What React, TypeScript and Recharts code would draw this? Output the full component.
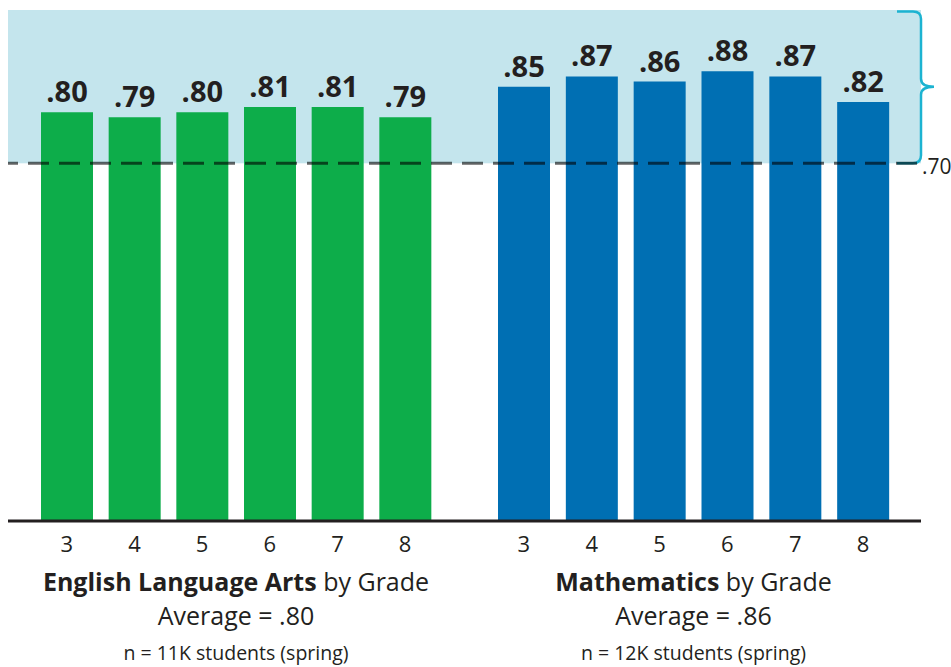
import { BarChart, Bar, XAxis, YAxis, ReferenceArea, ReferenceLine, LabelList } from "recharts";

const grades = ["3", "4", "5", "6", "7", "8"];
const elaScores = [0.8, 0.79, 0.8, 0.81, 0.81, 0.79];
const mathScores = [0.85, 0.87, 0.86, 0.88, 0.87, 0.82];
const benchmark = 0.7;
const elaStudents = "11K";
const mathStudents = "12K";

const FONT = "'Open Sans', sans-serif";
const INK = "#231f20";
const SHADE = "#c4e5ed";
const BRACE = "#1cb3d1";

const fmt = (v: number) => v.toFixed(2).replace(/^0/, "");
const avg = (a: number[]) => a.reduce((s, v) => s + v, 0) / a.length;

const elaData = grades.map((g, i) => ({ grade: g, score: elaScores[i] }));
const mathData = grades.map((g, i) => ({ grade: g, score: mathScores[i] }));

// shaded band; stretched over the axis padding, with the brace on the last panel
function BandShape(props: any) {
  const { x, y, width, height, extL, extR, brace } = props;
  const x0 = x - extL;
  const xr = x + width + extR;
  const yb = y + height;
  const ym = y + height / 2;
  const d = `M ${xr - 24} ${y + 1.5} H ${xr - 8} Q ${xr} ${y + 1.5} ${xr} ${y + 9} V ${ym - 8} Q ${xr} ${ym} ${xr + 13} ${ym} Q ${xr} ${ym} ${xr} ${ym + 8} V ${yb - 8} Q ${xr} ${yb} ${xr - 8} ${yb} H ${xr - 24}`;
  return (
    <g>
      <rect x={x0} y={y} width={xr - x0} height={height} fill={SHADE} />
      {brace && <path d={d} fill="none" stroke={BRACE} strokeWidth={2.5} />}
    </g>
  );
}

function DashShape(props: any) {
  const { x1, x2, y1, dashOffset, label } = props;
  return (
    <g>
      <line
        x1={x1}
        x2={x2}
        y1={y1}
        y2={y1}
        stroke="#000"
        strokeOpacity={0.6}
        strokeWidth={3}
        strokeDasharray="21 10"
        strokeDashoffset={dashOffset}
      />
      {label && (
        <text x={x2 + 1} y={y1 + 11} fontSize={21} fontFamily={FONT} fill={INK}>
          {label}
        </text>
      )}
    </g>
  );
}

interface PanelProps {
  data: { grade: string; score: number }[];
  color: string;
  width: number;
  margin: { top: number; right: number; bottom: number; left: number };
  padding: { left: number; right: number };
  dashOffset: number;
  last?: boolean;
}

function Panel({ data, color, width, margin, padding, dashOffset, last }: PanelProps) {
  return (
    <BarChart width={width} height={667} data={data} margin={margin} barSize={52}>
      <YAxis hide domain={[0, 1]} type="number" />
      <ReferenceArea
        y1={benchmark}
        y2={1}
        fill={SHADE}
        fillOpacity={1}
        stroke="none"
        ifOverflow="visible"
        shape={(p: any) => <BandShape {...p} extL={padding.left} extR={padding.right} brace={last} />}
      />
      <Bar dataKey="score" fill={color} isAnimationActive={false}>
        <LabelList
          dataKey="score"
          position="top"
          offset={10}
          formatter={(v: any) => fmt(Number(v))}
          style={{ fontFamily: FONT, fontWeight: 700, fontSize: 29, fill: INK }}
        />
      </Bar>
      <XAxis
        dataKey="grade"
        height={146}
        padding={padding}
        tickLine={false}
        tickSize={0}
        tickMargin={15}
        axisLine={{ stroke: INK, strokeWidth: 3 }}
        tick={{ fill: INK, fontSize: 22, fontFamily: FONT }}
      />
      <ReferenceLine
        y={benchmark}
        ifOverflow="visible"
        shape={(p: any) => (
          <DashShape {...p} dashOffset={dashOffset} label={last ? fmt(benchmark) : undefined} />
        )}
      />
    </BarChart>
  );
}

function Caption({ x, subject, scores, n }: { x: number; subject: string; scores: number[]; n: string }) {
  return (
    <g fontFamily={FONT} fill={INK} textAnchor="middle">
      <text x={x} y={591} fontSize={25}>
        <tspan fontWeight={700}>{subject}</tspan>
        <tspan> by Grade</tspan>
      </text>
      <text x={x} y={625} fontSize={25}>
        Average = {fmt(avg(scores))}
      </text>
      <text x={x} y={660} fontSize={19.5}>
        n = {n} students (spring)
      </text>
    </g>
  );
}

export default function App() {
  return (
    <div style={{ position: "absolute", left: 0, top: 0, width: 951, height: 667, overflow: "hidden", background: "#fff" }}>
      <div style={{ position: "absolute", left: 0, top: 0 }}>
        <Panel
          data={elaData}
          color="#0dad4a"
          width={465}
          margin={{ top: 10, right: 0, bottom: 0, left: 8 }}
          padding={{ left: 25, right: 26 }}
          dashOffset={11}
        />
      </div>
      <div style={{ position: "absolute", left: 465, top: 0 }}>
        <Panel
          data={mathData}
          color="#006fb3"
          width={486}
          margin={{ top: 10, right: 30, bottom: 0, left: 0 }}
          padding={{ left: 25, right: 24 }}
          dashOffset={3}
          last
        />
      </div>
      <svg width={951} height={667} style={{ position: "absolute", left: 0, top: 0, pointerEvents: "none" }}>
        <Caption x={236} subject="English Language Arts" scores={elaScores} n={elaStudents} />
        <Caption x={693.5} subject="Mathematics" scores={mathScores} n={mathStudents} />
      </svg>
    </div>
  );
}
